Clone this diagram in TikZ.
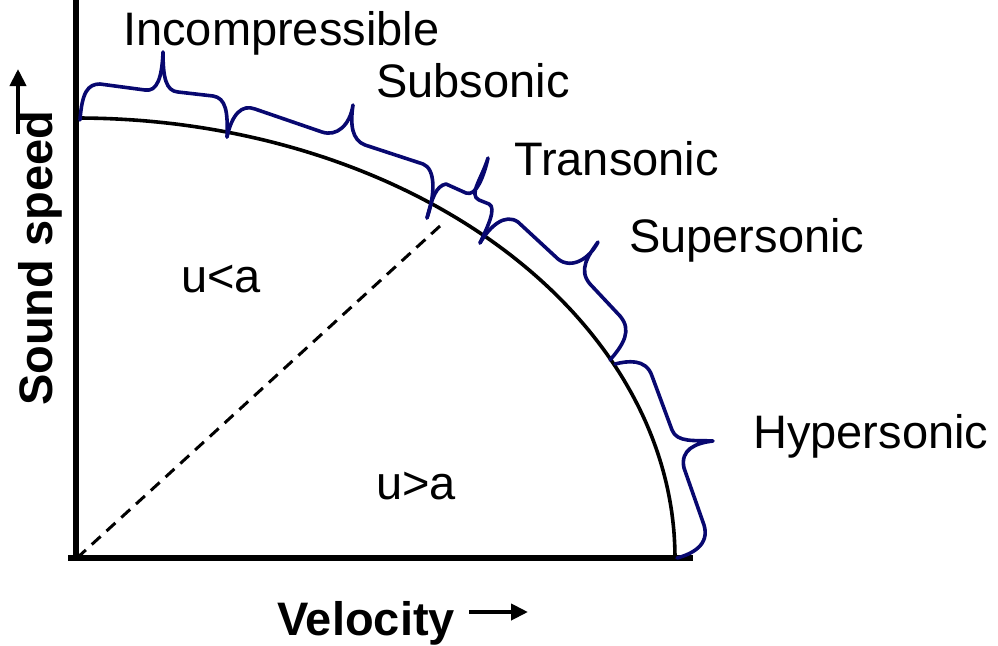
\documentclass[tikz,border=0pt]{standalone}
\usepackage{fontspec}
\setmainfont{Liberation Sans}
\usetikzlibrary{arrows.meta}
\definecolor{bracecol}{RGB}{8,8,112}
\tikzset{
  lbl/.style={inner sep=0pt, anchor=base west, font=\fontsize{47}{56}\selectfont},
  axlbl/.style={inner sep=0pt, anchor=base west, font=\fontsize{47}{56}\selectfont\bfseries},
  brace/.style={draw=bracecol, line width=3.6pt, line join=round, line cap=round},
  axis/.style={draw=black, line width=5.5pt},
  bigarrow/.style={draw=black, line width=4pt, -{Triangle[length=17pt,width=16pt]}}
}
\begin{document}
\begin{tikzpicture}[x=1pt,y=-1pt]
\useasboundingbox (0,0) rectangle (998,645);
% axes
\coordinate (O) at (77,558);
\coordinate (ytop) at (76,0);
\coordinate (ybot) at (76,561);
\coordinate (xl) at (68,558);
\coordinate (xr) at (693,558);
\draw[axis] (ytop) -- (ybot);
\draw[axis, line width=6.5pt] (xl) -- (xr);
% quarter ellipse
\draw[line width=3.6pt] plot[domain=90:0, samples=120, smooth] ({77+598*cos(\x)},{558-440*sin(\x)});
% dashed line
\coordinate (T) at (440,226);
\draw[line width=3pt, dash pattern=on 12pt off 8pt] (O) -- (T);
% braces
\draw[brace] (80,120) .. controls (82,92) and (88,84) .. (100,84) -- (145,90)
  .. controls (157,92) and (162,78) .. (163,52)
  .. controls (163,78) and (166,91) .. (178,92) -- (213,96)
  .. controls (226,98) and (228,112) .. (227,137);
\draw[brace] (227,137) .. controls (232,114) and (242,104) .. (255,109) -- (322,132)
  .. controls (337,137) and (350,125) .. (353,105)
  .. controls (350,125) and (352,140) .. (365,145) -- (423,164)
  .. controls (436,169) and (435,195) .. (427,218);
\draw[brace] (427,218) .. controls (432,198) and (436,186) .. (446,184) -- (466,193)
  .. controls (476,197) and (484,176) .. (488,158)
  .. controls (482,178) and (468,195) .. (479,200) -- (489,204)
  .. controls (497,208) and (487,228) .. (480,243);
\draw[brace] (480,243) .. controls (490,226) and (505,213) .. (518,222) -- (558,259)
  .. controls (572,270) and (590,258) .. (598,242)
  .. controls (588,256) and (578,270) .. (590,284) -- (620,316)
  .. controls (632,330) and (624,344) .. (610,360);
\draw[brace] (615,364) .. controls (627,361) and (646,358) .. (652,376) -- (672,430)
  .. controls (677,443) and (695,440) .. (713,441)
  .. controls (695,443) and (680,450) .. (684,468) -- (704,525)
  .. controls (710,545) and (692,554) .. (677,558);
% labels
\node[lbl] (inc) at (123,45) {Incompressible};
\node[lbl] (sub) at (376,97) {Subsonic};
\node[lbl] (tra) at (514,175) {Transonic};
\node[lbl] (sup) at (629,252) {Supersonic};
\node[lbl] (hyp) at (753,448) {Hypersonic};
\node[lbl] (ula) at (181,292) {u<a};
\node[lbl] (uga) at (376,499) {u>a};
\node[axlbl] (vel) at (277,635) {Velocity};
\node[axlbl, rotate=90] (snd) at (52,406) {Sound speed};
% axis arrows
\coordinate (va1) at (469,612);
\coordinate (va2) at (528,612);
\draw[bigarrow] (va1) -- (va2);
\coordinate (sa1) at (18,134);
\coordinate (sa2) at (18,69);
\draw[bigarrow] (sa1) -- (sa2);
\end{tikzpicture}
\end{document}
